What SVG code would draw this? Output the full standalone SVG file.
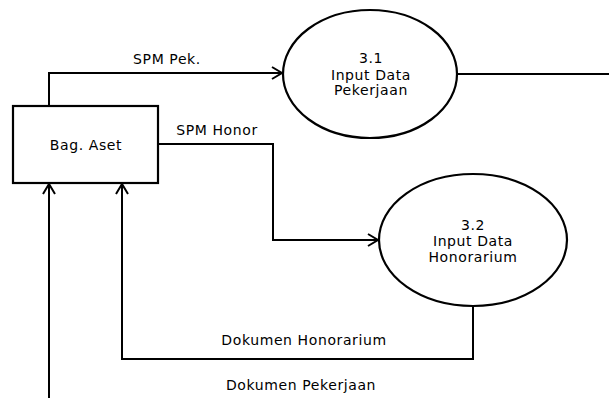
<svg xmlns="http://www.w3.org/2000/svg" width="609" height="398" viewBox="0 0 609 398">
<defs>
<marker id="arr" markerWidth="14" markerHeight="14" refX="11" refY="7" orient="auto" markerUnits="userSpaceOnUse">
<path d="M1,1 L11,7 L1,13" fill="none" stroke="#000" stroke-width="2"/>
</marker>
<style>
.ln{fill:none;stroke:#000;stroke-width:2}
.sh{fill:#fff;stroke:#000;stroke-width:2.2}
text{font-family:"DejaVu Sans",Verdana,sans-serif;font-size:14px;fill:#000;letter-spacing:0.6px}
.c{text-anchor:middle}
</style>
</defs>
<rect width="609" height="398" fill="#fff"/>
<g id="connectors">
<polyline class="ln" points="49,106 49,73 282,73" marker-end="url(#arr)"/>
<line class="ln" x1="458" y1="74" x2="609" y2="74"/>
<polyline class="ln" points="158,144 273,144 273,240 378,240" marker-end="url(#arr)"/>
<polyline class="ln" points="473,306 473,359 122,359 122,184" marker-end="url(#arr)"/>
<line class="ln" x1="49" y1="398" x2="49" y2="184" marker-end="url(#arr)"/>
<text class="c" x="167" y="64">SPM Pek.</text>
<text class="c" x="217" y="135">SPM Honor</text>
<text class="c" x="304" y="345">Dokumen Honorarium</text>
<text class="c" x="301" y="390">Dokumen Pekerjaan</text>
</g>
<g id="bag-aset">
<rect class="sh" x="13" y="106" width="145" height="77"/>
<text class="c" x="86" y="150">Bag. Aset</text>
</g>
<g id="p31">
<ellipse class="sh" cx="370" cy="74" rx="87" ry="64"/>
<text class="c" x="371" y="63">3.1</text>
<text class="c" x="371" y="80">Input Data</text>
<text class="c" x="371" y="95">Pekerjaan</text>
</g>
<g id="p32">
<ellipse class="sh" cx="473" cy="240" rx="94" ry="66"/>
<text class="c" x="473" y="230">3.2</text>
<text class="c" x="473" y="246">Input Data</text>
<text class="c" x="473" y="262">Honorarium</text>
</g>
</svg>
